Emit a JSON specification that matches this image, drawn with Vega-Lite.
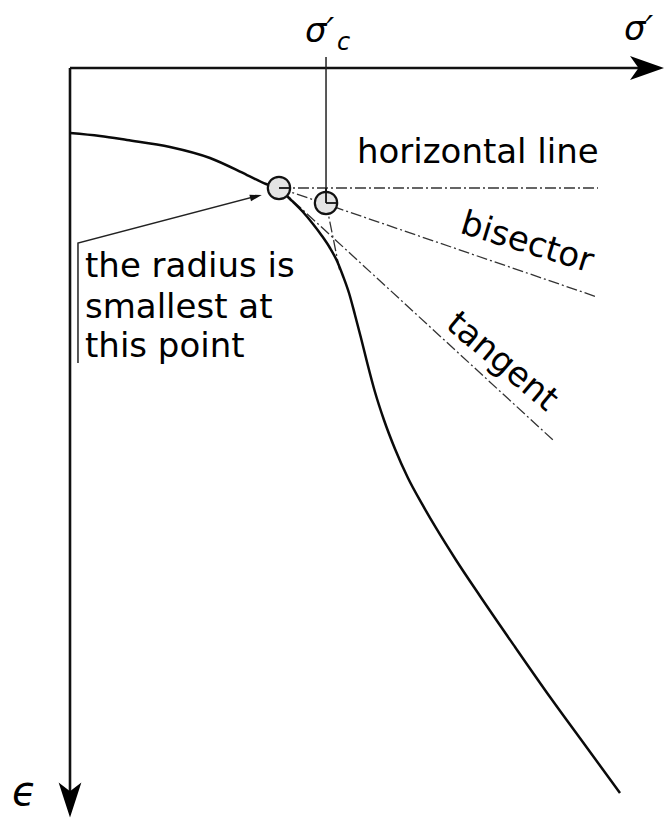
{
  "$schema": "https://vega.github.io/schema/vega-lite/v6.json",
  "width": 664,
  "height": 818,
  "padding": 0,
  "autosize": {"type": "none"},
  "background": "white",
  "config": {"view": {"stroke": null}},
  "datasets": {
    "curve": [
      {"x": 0, "y": 8.67}, {"x": 5, "y": 9.07}, {"x": 9.5, "y": 9.6}, {"x": 16.67, "y": 10.53},
      {"x": 23.33, "y": 12}, {"x": 29.5, "y": 14.27}, {"x": 32.67, "y": 15.47}, {"x": 34.83, "y": 16.13},
      {"x": 37, "y": 17.73}, {"x": 38.83, "y": 19.2}, {"x": 40.5, "y": 20.8}, {"x": 42, "y": 22.4},
      {"x": 43.33, "y": 24}, {"x": 44.5, "y": 25.73}, {"x": 45.5, "y": 27.73}, {"x": 46.5, "y": 30},
      {"x": 47.5, "y": 32.93}, {"x": 48.5, "y": 36}, {"x": 49.5, "y": 39.2}, {"x": 50.83, "y": 43.2},
      {"x": 52.33, "y": 46.93}, {"x": 54.17, "y": 50.8}, {"x": 56.33, "y": 54.67}, {"x": 58.67, "y": 58.13},
      {"x": 61, "y": 61.33}, {"x": 64.33, "y": 65.6}, {"x": 68.33, "y": 70.4}, {"x": 74.17, "y": 77.2},
      {"x": 80, "y": 83.87}, {"x": 85.83, "y": 90.27}, {"x": 91.67, "y": 96.67}
    ],
    "axes": [
      {"seg": "sigma", "o": 0, "x": 0, "y": 0}, {"seg": "sigma", "o": 1, "x": 96.67, "y": 0},
      {"seg": "eps", "o": 0, "x": 0, "y": 0}, {"seg": "eps", "o": 1, "x": 0, "y": 97.6}
    ],
    "thin": [
      {"seg": "sigma_c", "o": 0, "x": 42.67, "y": -1.47}, {"seg": "sigma_c", "o": 1, "x": 42.67, "y": 18},
      {"seg": "note", "o": 0, "x": 1.33, "y": 39.33}, {"seg": "note", "o": 1, "x": 1.33, "y": 23.33},
      {"seg": "note", "o": 2, "x": 31.17, "y": 17.07}
    ],
    "guides": [
      {"seg": "horizontal", "o": 0, "x": 34.83, "y": 16}, {"seg": "horizontal", "o": 1, "x": 88, "y": 16},
      {"seg": "bisector", "o": 0, "x": 34.83, "y": 16}, {"seg": "bisector", "o": 1, "x": 87.83, "y": 30.53},
      {"seg": "tangent", "o": 0, "x": 34.83, "y": 16}, {"seg": "tangent", "o": 1, "x": 80.5, "y": 49.6},
      {"seg": "straight", "o": 0, "x": 42.67, "y": 18}, {"seg": "straight", "o": 1, "x": 45.0, "y": 27.2}
    ],
    "circles": [
      {"name": "min radius", "x": 34.83, "y": 16},
      {"name": "sigma_c", "x": 42.67, "y": 18}
    ],
    "cross": [
      {"seg": "c1", "o": 0, "x": 34.83, "y": 16}, {"seg": "c1", "o": 1, "x": 36.83, "y": 16},
      {"seg": "c2", "o": 0, "x": 42.67, "y": 18}, {"seg": "c2", "o": 1, "x": 44.67, "y": 18},
      {"seg": "c2v", "o": 0, "x": 42.67, "y": 16}, {"seg": "c2v", "o": 1, "x": 42.67, "y": 18}
    ]
  },
  "encoding": {
    "x": {"field": "x", "type": "quantitative", "scale": {"domain": [-11.6667, 99], "nice": false, "zero": false}, "axis": null},
    "y": {"field": "y", "type": "quantitative", "scale": {"domain": [-9.0667, 100], "nice": false, "zero": false, "reverse": true}, "axis": null}
  },
  "layer": [
    {
      "data": {"name": "guides"},
      "mark": {"type": "line", "color": "#333333", "strokeWidth": 1.3, "strokeDash": [11, 3, 2, 3]},
      "encoding": {"detail": {"field": "seg"}, "order": {"field": "o", "type": "quantitative"}}
    },
    {
      "data": {"name": "axes"},
      "mark": {"type": "line", "color": "#111111", "strokeWidth": 2.6},
      "encoding": {"detail": {"field": "seg"}, "order": {"field": "o", "type": "quantitative"}}
    },
    {
      "data": {"name": "thin"},
      "mark": {"type": "line", "color": "#222222", "strokeWidth": 1.5},
      "encoding": {"detail": {"field": "seg"}, "order": {"field": "o", "type": "quantitative"}}
    },
    {
      "data": {"name": "curve"},
      "mark": {"type": "line", "color": "#0a0a0a", "strokeWidth": 2.5, "interpolate": "monotone"},
      "encoding": {"order": {"field": "x", "type": "quantitative"}}
    },
    {
      "data": {"name": "circles"},
      "mark": {"type": "point", "shape": "circle", "filled": true, "fill": "#e4e4e4", "stroke": "#111111", "strokeWidth": 2.2, "opacity": 1, "size": 500}
    },
    {
      "data": {"name": "cross"},
      "mark": {"type": "line", "color": "#111111", "strokeWidth": 1.8},
      "encoding": {"detail": {"field": "seg"}, "order": {"field": "o", "type": "quantitative"}}
    },
    {
      "data": {"values": [{"x": 96.17, "y": 0}]},
      "mark": {"type": "point", "shape": "M1,0L-1,-0.7L-0.5,0L-1,0.7Z", "filled": true, "color": "#000000", "opacity": 1, "size": 1156, "strokeWidth": 0}
    },
    {
      "data": {"values": [{"x": 0, "y": 97.6}]},
      "mark": {"type": "point", "shape": "M0,1L-0.65,-1L0,-0.5L0.65,-1Z", "filled": true, "color": "#000000", "opacity": 1, "size": 1225, "strokeWidth": 0}
    },
    {
      "data": {"values": [{"x": 31, "y": 17.13}]},
      "mark": {"type": "point", "shape": "M1,0L-1,-0.55L-1,0.55Z", "angle": -14.6, "filled": true, "color": "#111111", "opacity": 1, "size": 144, "strokeWidth": 0}
    },
    {
      "data": {"values": [
        {"label": "horizontal line", "x": 47.83, "y": 12.6},
        {"label": "the radius is", "x": 2.5, "y": 27.87},
        {"label": "smallest at", "x": 2.5, "y": 33.33},
        {"label": "this point", "x": 2.5, "y": 38.53}
      ]},
      "mark": {"type": "text", "font": "DejaVu Sans", "fontSize": 34, "align": "left", "baseline": "alphabetic", "color": "#000000"},
      "encoding": {"text": {"field": "label"}}
    },
    {
      "data": {"values": [{"label": "bisector", "x": 76.17, "y": 23.33}]},
      "mark": {"type": "text", "font": "DejaVu Sans", "fontSize": 34, "align": "center", "baseline": "middle", "angle": 17, "color": "#000000"},
      "encoding": {"text": {"field": "label"}}
    },
    {
      "data": {"values": [{"label": "tangent", "x": 72, "y": 39.2}]},
      "mark": {"type": "text", "font": "DejaVu Sans", "fontSize": 34, "align": "center", "baseline": "middle", "angle": 40, "color": "#000000"},
      "encoding": {"text": {"field": "label"}}
    },
    {
      "data": {"values": [
        {"label": "σ′", "x": 39.17, "y": -3.47},
        {"label": "σ′", "x": 92.33, "y": -3.73}
      ]},
      "mark": {"type": "text", "font": "DejaVu Sans", "fontStyle": "italic", "fontSize": 34, "align": "left", "baseline": "alphabetic", "color": "#000000"},
      "encoding": {"text": {"field": "label"}}
    },
    {
      "data": {"values": [{"label": "c", "x": 44.5, "y": -2.4}]},
      "mark": {"type": "text", "font": "DejaVu Sans", "fontStyle": "italic", "fontSize": 24, "align": "left", "baseline": "alphabetic", "color": "#000000"},
      "encoding": {"text": {"field": "label"}}
    },
    {
      "data": {"values": [{"label": "ϵ", "x": -9.67, "y": 98.27}]},
      "mark": {"type": "text", "font": "DejaVu Sans", "fontStyle": "italic", "fontSize": 40, "align": "left", "baseline": "alphabetic", "color": "#000000"},
      "encoding": {"text": {"field": "label"}}
    }
  ]
}
